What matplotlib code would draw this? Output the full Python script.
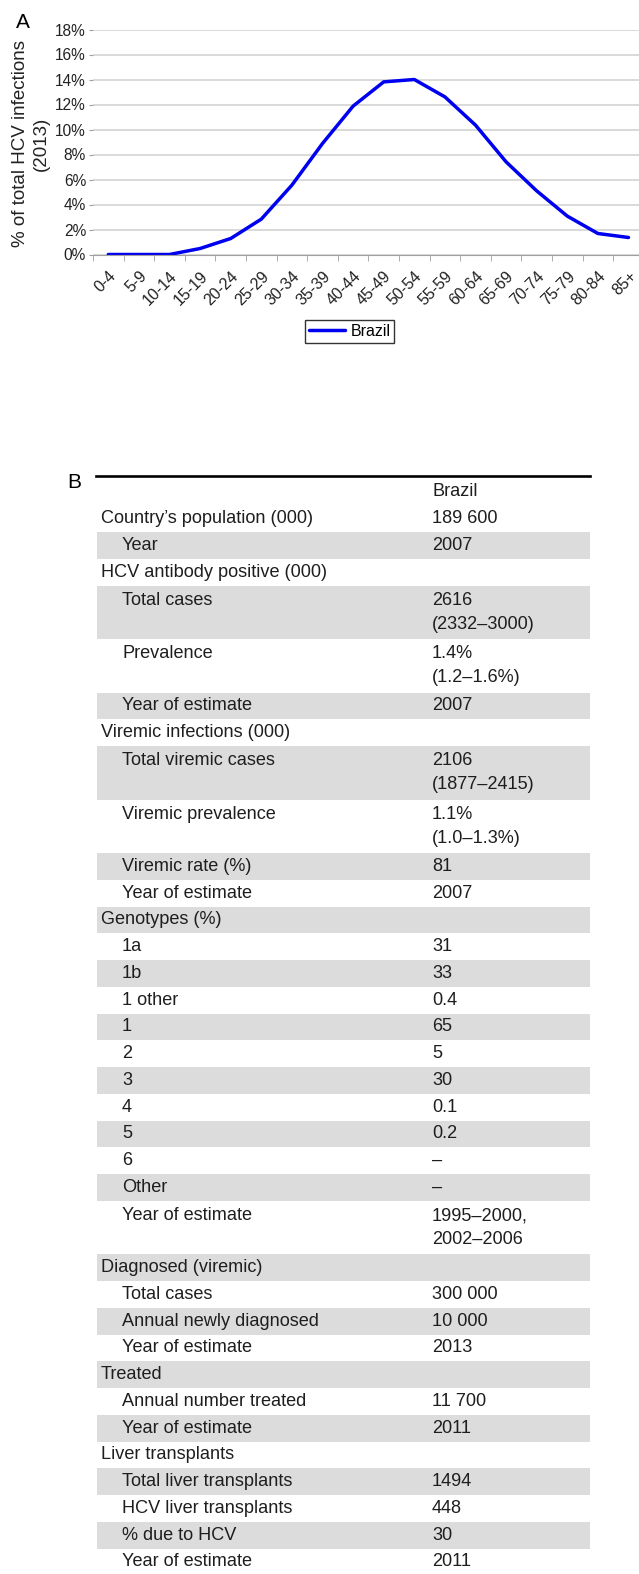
import matplotlib
matplotlib.use("Agg")
import matplotlib.pyplot as plt
from matplotlib.ticker import FixedLocator

plt.rcParams['font.family'] = ['Liberation Sans', 'DejaVu Sans']

# panel A data
age_groups = ['0-4', '5-9', '10-14', '15-19', '20-24', '25-29', '30-34', '35-39', '40-44',
              '45-49', '50-54', '55-59', '60-64', '65-69', '70-74', '75-79', '80-84', '85+']
brazil_pct = [0.0, 0.0, 0.0, 0.48, 1.28, 2.83, 5.55, 8.88, 11.87,
              13.81, 14.0, 12.61, 10.35, 7.41, 5.09, 3.07, 1.68, 1.36]
y_ticks = [0, 2, 4, 6, 8, 10, 12, 14, 16, 18]

# panel B data
row_labels = ['', "Country\u2019s population (000)", 'Year', 'HCV antibody positive (000)',
              'Total cases', 'Prevalence', 'Year of estimate', 'Viremic infections (000)',
              'Total viremic cases', 'Viremic prevalence', 'Viremic rate (%)', 'Year of estimate',
              'Genotypes (%)', '1a', '1b', '1 other', '1', '2', '3', '4', '5', '6', 'Other',
              'Year of estimate', 'Diagnosed (viremic)', 'Total cases', 'Annual newly diagnosed',
              'Year of estimate', 'Treated', 'Annual number treated', 'Year of estimate',
              'Liver transplants', 'Total liver transplants', 'HCV liver transplants',
              '% due to HCV', 'Year of estimate']
row_values = ['Brazil', '189 600', '2007', '', '2616\n(2332\u20133000)', '1.4%\n(1.2\u20131.6%)',
              '2007', '', '2106\n(1877\u20132415)', '1.1%\n(1.0\u20131.3%)', '81', '2007', '',
              '31', '33', '0.4', '65', '5', '30', '0.1', '0.2', '\u2013', '\u2013',
              '1995\u20132000,\n2002\u20132006', '', '300 000', '10 000', '2013', '',
              '11 700', '2011', '', '1494', '448', '30', '2011']
row_indent = [0, 0, 1, 0, 1, 1, 1, 0, 1, 1, 1, 1, 0, 1, 1, 1, 1, 1, 1, 1, 1, 1, 1, 1,
              0, 1, 1, 1, 0, 1, 1, 0, 1, 1, 1, 1]

W, H = 639, 1574
fig = plt.figure(figsize=(W / 100, H / 100), dpi=100)


def px_axes(left, top, right, bottom):
    return fig.add_axes([left / W, 1 - bottom / H, (right - left) / W, (bottom - top) / H])


# ---- panel A ----
step = 30.6
ax = px_axes(93, 29.5, W, 254.5)
x = list(range(len(age_groups)))
ax.plot(x, brazil_pct, color='#0000f0', lw=2.5, label='Brazil', solid_capstyle='round')
ax.set_ylim(0, 18)
ax.set_xlim(-0.5, -0.5 + (W - 93) / step)
ax.set_yticks(y_ticks)
ax.set_yticklabels([f'{v}%' for v in y_ticks], fontsize=11.2, color='#222222')
ax.set_xticks(x)
ax.set_xticklabels(age_groups, rotation=45, ha='right', va='top', rotation_mode='anchor',
                   fontsize=11.5, color='#222222')
ax.xaxis.set_minor_locator(FixedLocator([i - 0.5 for i in range(len(age_groups))]))
ax.tick_params(axis='x', which='major', length=0, pad=10)
ax.tick_params(axis='x', which='minor', length=4, color='#a0a0a0')
ax.tick_params(axis='y', length=3, color='#a0a0a0', pad=2)
ax.grid(axis='y', color='#d0d0d0', lw=1.1)
ax.set_axisbelow(True)
for s in ['top', 'right', 'left']:
    ax.spines[s].set_visible(False)
ax.spines['bottom'].set_color('#a0a0a0')

fig.text(30.5 / W, 1 - 143.5 / H, '% of total HCV infections\n(2013)', rotation=90,
         ha='center', va='center', multialignment='center', fontsize=13.5,
         color='#222222', linespacing=1.3)
fig.text(23 / W, 1 - 22 / H, 'A', ha='center', va='center', fontsize=15)

leg = ax.legend(loc='center', bbox_to_anchor=(349.5 / W, 1 - 331.5 / H),
                bbox_transform=fig.transFigure, fontsize=11.5, frameon=True, fancybox=False,
                handlelength=2.3, handletextpad=0.3, borderpad=0.25, borderaxespad=0)
leg.get_frame().set_edgecolor('black')
leg.get_frame().set_linewidth(1.0)

# ---- panel B ----
pitch = 26.75          # px per text line
inner = 24 / pitch     # spacing of lines inside a two-line cell
n_lines = [v.count('\n') + 1 for v in row_values]
total = sum(n_lines)
top = 478.6
tb = px_axes(97, top, 590, top + total * pitch)
tb.set_xlim(97, 590)
tb.set_ylim(total, 0)
tb.axis('off')

pos = 0
for i, (lab, val, ind, n) in enumerate(zip(row_labels, row_values, row_indent, n_lines)):
    if i >= 2 and i % 2 == 0:
        tb.axhspan(pos, pos + n, color='#dcdcdc', lw=0, zorder=0)
    centre = pos + n / 2
    first = centre - (n - 1) / 2 * inner
    tb.text(122 if ind else 101, first, lab, ha='left', va='center',
            fontsize=13.1, color='#1e1e1e')
    for k, line in enumerate(val.split('\n')):
        tb.text(432, first + k * inner, line, ha='left', va='center', fontsize=13.1,
                color='#1e1e1e')
    pos += n

fig.add_artist(plt.Line2D([96 / W, 590 / W], [1 - 476 / H, 1 - 476 / H],
                          color='black', lw=1.9))
fig.text(74 / W, 1 - 482.5 / H, 'B', ha='center', va='center', fontsize=15)

fig.savefig('out.png', dpi=100)
